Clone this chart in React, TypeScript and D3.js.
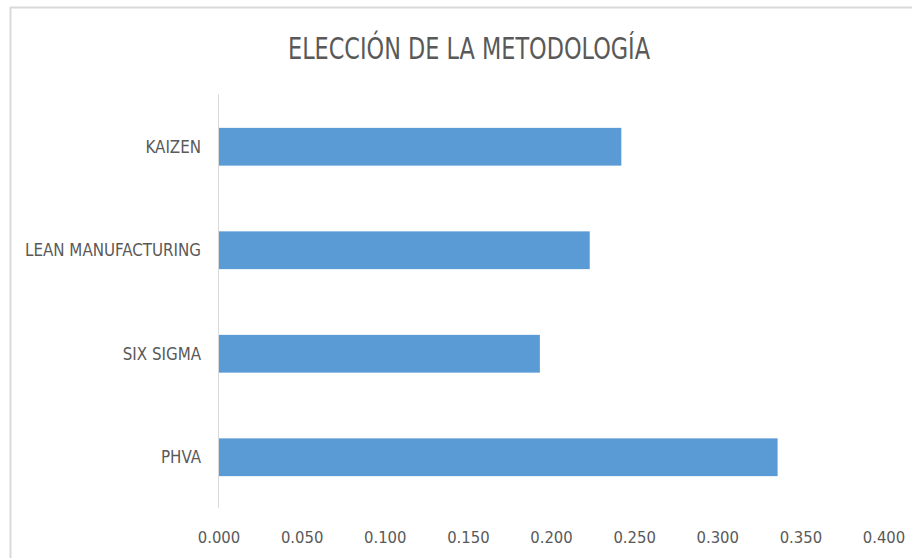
import React from "react";
import * as d3 from "d3";

const title = "ELECCIÓN DE LA METODOLOGÍA";
const categories = ["KAIZEN", "LEAN MANUFACTURING", "SIX SIGMA", "PHVA"];
const values = [0.242, 0.223, 0.193, 0.336];
const ticks = [0, 0.05, 0.1, 0.15, 0.2, 0.25, 0.3, 0.35, 0.4];

const W = 912;
const H = 558;
const FONT = "'Liberation Sans Narrow', 'Arial Narrow', 'DejaVu Sans Condensed', sans-serif";

export default function App() {
  const x = d3.scaleLinear().domain([0, 0.4]).range([219, 884]);
  const y = d3
    .scaleBand<string>()
    .domain(categories)
    .range([95, 509])
    .paddingInner(0.635)
    .paddingOuter(0.3175);
  const fmt = d3.format(".3f");

  return (
    <svg
      width={W}
      height={H}
      style={{ position: "absolute", left: 0, top: 0, background: "#fff" }}
      fontFamily={FONT}
    >
      <rect x={0} y={0} width={W} height={H} fill="#fff" />
      <line x1={10} x2={W} y1={7.5} y2={7.5} stroke="#d9d9d9" strokeWidth={2} />
      <line x1={10.5} x2={10.5} y1={7} y2={H} stroke="#d9d9d9" strokeWidth={2} />

      <text
        x={469}
        y={58.5}
        textAnchor="middle"
        fontSize={30}
        fill="#595959"
        textLength={362}
        lengthAdjust="spacingAndGlyphs"
      >
        {title}
      </text>

      {categories.map((c, i) => (
        <rect
          key={c}
          x={x(0)}
          y={y(c)!}
          width={x(values[i]) - x(0)}
          height={y.bandwidth()}
          fill="#5b9bd5"
        />
      ))}

      <line x1={218.5} x2={218.5} y1={94} y2={508} stroke="#d9d9d9" strokeWidth={1} />

      {categories.map((c) => (
        <text
          key={c}
          x={201}
          y={y(c)! + y.bandwidth() / 2 + 6}
          textAnchor="end"
          fontSize={16.8}
          fill="#595959"
        >
          {c}
        </text>
      ))}

      {ticks.map((t) => (
        <text key={t} x={x(t)} y={543} textAnchor="middle" fontSize={16.5} fill="#595959">
          {fmt(t)}
        </text>
      ))}
    </svg>
  );
}
